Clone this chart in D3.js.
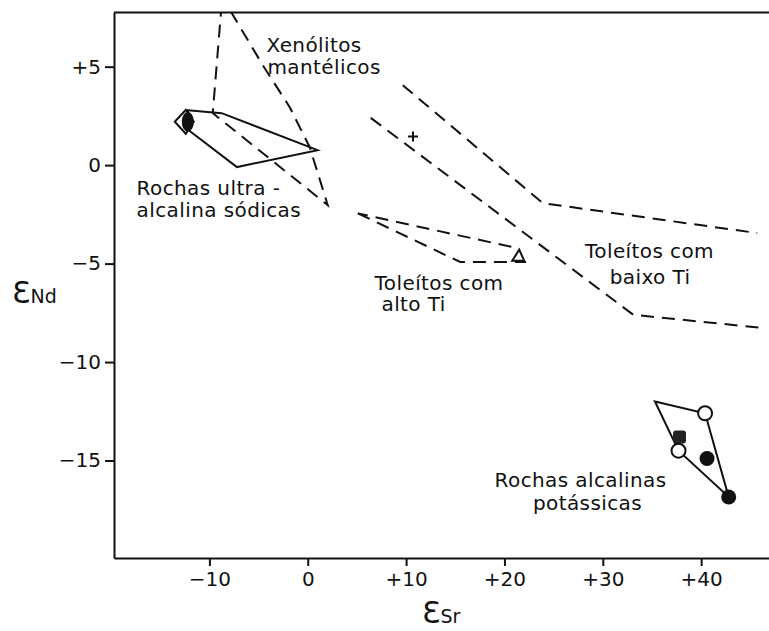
<!DOCTYPE html>
<html>
<head>
<meta charset="utf-8">
<script src="https://cdn.jsdelivr.net/npm/d3@7"></script>
<style>
  html, body { margin: 0; padding: 0; background: #fff; }
  svg text { font-family: "DejaVu Sans", sans-serif; fill: #111; }
</style>
</head>
<body>
<svg width="769" height="631"></svg>
<script>
// AXIS TICKS
var X_TICKS = [-10, 0, 10, 20, 30, 40];
var Y_TICKS = [5, 0, -5, -10, -15];

// FIELDS (eSr, eNd)
var XENOLITOS = [[-8.75, 8.2], [-9.66, 2.64], [2.03, -2.03], [0.2, 0.91], [-1.83, 2.94], [-4.58, 5.08], [-8.3, 8.2]];
var ULTRA_SODICAS = [[-12.2, 2.79], [-8.75, 2.64], [1.0, 0.76], [-7.2, -0.1], [-12.0, 1.73]];
var BAIXO_TI_TOP = [[9.66, 4.06], [23.9, -1.93], [45.7, -3.45]];
var BAIXO_TI_BOTTOM = [[6.4, 2.4], [33.1, -7.6], [46.3, -8.27]];
var ALTO_TI_TOP = [[20.7, -4.15], [5.1, -2.45]];
var ALTO_TI_BOTTOM = [[5.1, -2.45], [15.5, -4.92], [22.2, -4.92]];
var POTASSICAS = [[35.3, -12.0], [40.4, -12.6], [42.8, -16.85], [37.7, -14.5]];

// SAMPLES
var OPEN_CIRCLES = [[40.4, -12.6], [37.7, -14.5]];
var FILLED_CIRCLES = [[40.6, -14.9], [42.8, -16.85]];
var FILLED_SQUARES = [[37.8, -13.8]];
var TRIANGLES = [[21.4, -4.6]];
var PLUSES = [[10.7, 1.45]];
var DIAMONDS = [[-12.4, 2.2]];

// FIELD NAMES
var LABELS = [
  {text: "Xenólitos", x: -4.2, y: 5.72},
  {text: "mantélicos", x: -4.1, y: 4.64},
  {text: "Rochas ultra -", x: -17.4, y: -1.5},
  {text: "alcalina sódicas", x: -17.4, y: -2.62},
  {text: "Toleítos com", x: 28.2, y: -4.72},
  {text: "baixo Ti", x: 30.7, y: -6.02},
  {text: "Toleítos com", x: 6.8, y: -6.32},
  {text: "alto Ti", x: 7.5, y: -7.42},
  {text: "Rochas alcalinas", x: 19.0, y: -16.32},
  {text: "potássicas", x: 22.9, y: -17.5}
];

var svg = d3.select("svg");

var x = d3.scaleLinear().domain([-19.7, 46.9]).range([114, 769]);
var y = d3.scaleLinear().domain([-19.95, 7.75]).range([558, 12.5]);

function fmt(d) {
  if (d > 0) return "+" + d;
  if (d < 0) return "\u2212" + (-d);
  return "0";
}

svg.append("clipPath").attr("id", "plot")
  .append("rect").attr("x", 114).attr("y", 12.5).attr("width", 655).attr("height", 545.5);

// axes
var xAxis = svg.append("g")
    .attr("transform", "translate(0," + y(-19.95) + ")")
    .call(d3.axisBottom(x).tickValues(X_TICKS).tickFormat(fmt).tickSize(8).tickSizeOuter(0).tickPadding(6));
var yAxis = svg.append("g")
    .attr("transform", "translate(" + x(-19.7) + ",0)")
    .call(d3.axisLeft(y).tickValues(Y_TICKS).tickFormat(fmt).tickSize(9).tickSizeOuter(0).tickPadding(4));

svg.selectAll(".tick text").style("font-size", "20px").style("font-family", "DejaVu Sans");
svg.selectAll(".domain, .tick line").attr("stroke", "#111").attr("stroke-width", 2);

// top frame
svg.append("line")
    .attr("x1", x(-19.7)).attr("x2", x(46.9))
    .attr("y1", y(7.75)).attr("y2", y(7.75))
    .attr("stroke", "#111").attr("stroke-width", 2);

var line = d3.line().x(function(d) { return x(d[0]); }).y(function(d) { return y(d[1]); });

var plot = svg.append("g").attr("clip-path", "url(#plot)");

// dashed fields
[XENOLITOS, BAIXO_TI_TOP, BAIXO_TI_BOTTOM, ALTO_TI_TOP, ALTO_TI_BOTTOM].forEach(function(pts) {
  plot.append("path")
      .attr("d", line(pts))
      .attr("fill", "none")
      .attr("stroke", "#111")
      .attr("stroke-width", 2)
      .attr("stroke-dasharray", "13,8");
});

// solid fields
[ULTRA_SODICAS, POTASSICAS].forEach(function(pts) {
  plot.append("path")
      .attr("d", line(pts) + "Z")
      .attr("fill", "none")
      .attr("stroke", "#111")
      .attr("stroke-width", 2);
});

// symbols
plot.selectAll(".diamond").data(DIAMONDS).enter().append("path")
    .attr("d", function(d) {
      var cx = x(d[0]), cy = y(d[1]);
      return "M" + (cx - 11) + "," + cy + "L" + cx + "," + (cy - 12) + "L" + (cx + 8) + "," + cy + "L" + cx + "," + (cy + 12) + "Z";
    })
    .attr("fill", "#fff").attr("stroke", "#111").attr("stroke-width", 2);
plot.selectAll(".diamondfill").data(DIAMONDS).enter().append("ellipse")
    .attr("cx", function(d) { return x(d[0]) + 2; })
    .attr("cy", function(d) { return y(d[1]); })
    .attr("rx", 6).attr("ry", 10)
    .attr("fill", "#111");

plot.selectAll(".sq").data(FILLED_SQUARES).enter().append("rect")
    .attr("x", function(d) { return x(d[0]) - 6.5; })
    .attr("y", function(d) { return y(d[1]) - 6.5; })
    .attr("width", 13).attr("height", 13).attr("rx", 3)
    .attr("fill", "#222");

plot.selectAll(".oc").data(OPEN_CIRCLES).enter().append("circle")
    .attr("cx", function(d) { return x(d[0]); })
    .attr("cy", function(d) { return y(d[1]); })
    .attr("r", 7).attr("fill", "#fff").attr("stroke", "#111").attr("stroke-width", 2);

plot.selectAll(".fc").data(FILLED_CIRCLES).enter().append("circle")
    .attr("cx", function(d) { return x(d[0]); })
    .attr("cy", function(d) { return y(d[1]); })
    .attr("r", 7.5).attr("fill", "#111");

plot.selectAll(".tri").data(TRIANGLES).enter().append("path")
    .attr("d", function(d) {
      var cx = x(d[0]), cy = y(d[1]);
      return "M" + (cx - 6) + "," + (cy + 5) + "L" + (cx + 1) + "," + (cy - 6) + "L" + (cx + 6) + "," + (cy + 5) + "Z";
    })
    .attr("fill", "none").attr("stroke", "#111").attr("stroke-width", 2);

plot.selectAll(".plus").data(PLUSES).enter().append("path")
    .attr("d", function(d) {
      var cx = x(d[0]), cy = y(d[1]);
      return "M" + (cx - 5) + "," + cy + "H" + (cx + 5) + "M" + cx + "," + (cy - 5) + "V" + (cy + 5);
    })
    .attr("stroke", "#111").attr("stroke-width", 2);

// labels
svg.selectAll(".lbl").data(LABELS).enter().append("text")
    .attr("x", function(d) { return x(d.x); })
    .attr("y", function(d) { return y(d.y); })
    .style("font-size", "20px")
    .style("letter-spacing", "0.4px")
    .text(function(d) { return d.text; });

// axis titles
var yt = svg.append("text").attr("x", 12).attr("y", 303);
yt.append("tspan").style("font-size", "30px").text("\u0190");
yt.append("tspan").style("font-size", "19px").text("Nd");

var xt = svg.append("text").attr("x", 422).attr("y", 623);
xt.append("tspan").style("font-size", "30px").text("\u0190");
xt.append("tspan").style("font-size", "19px").text("Sr");
</script>
</body>
</html>
